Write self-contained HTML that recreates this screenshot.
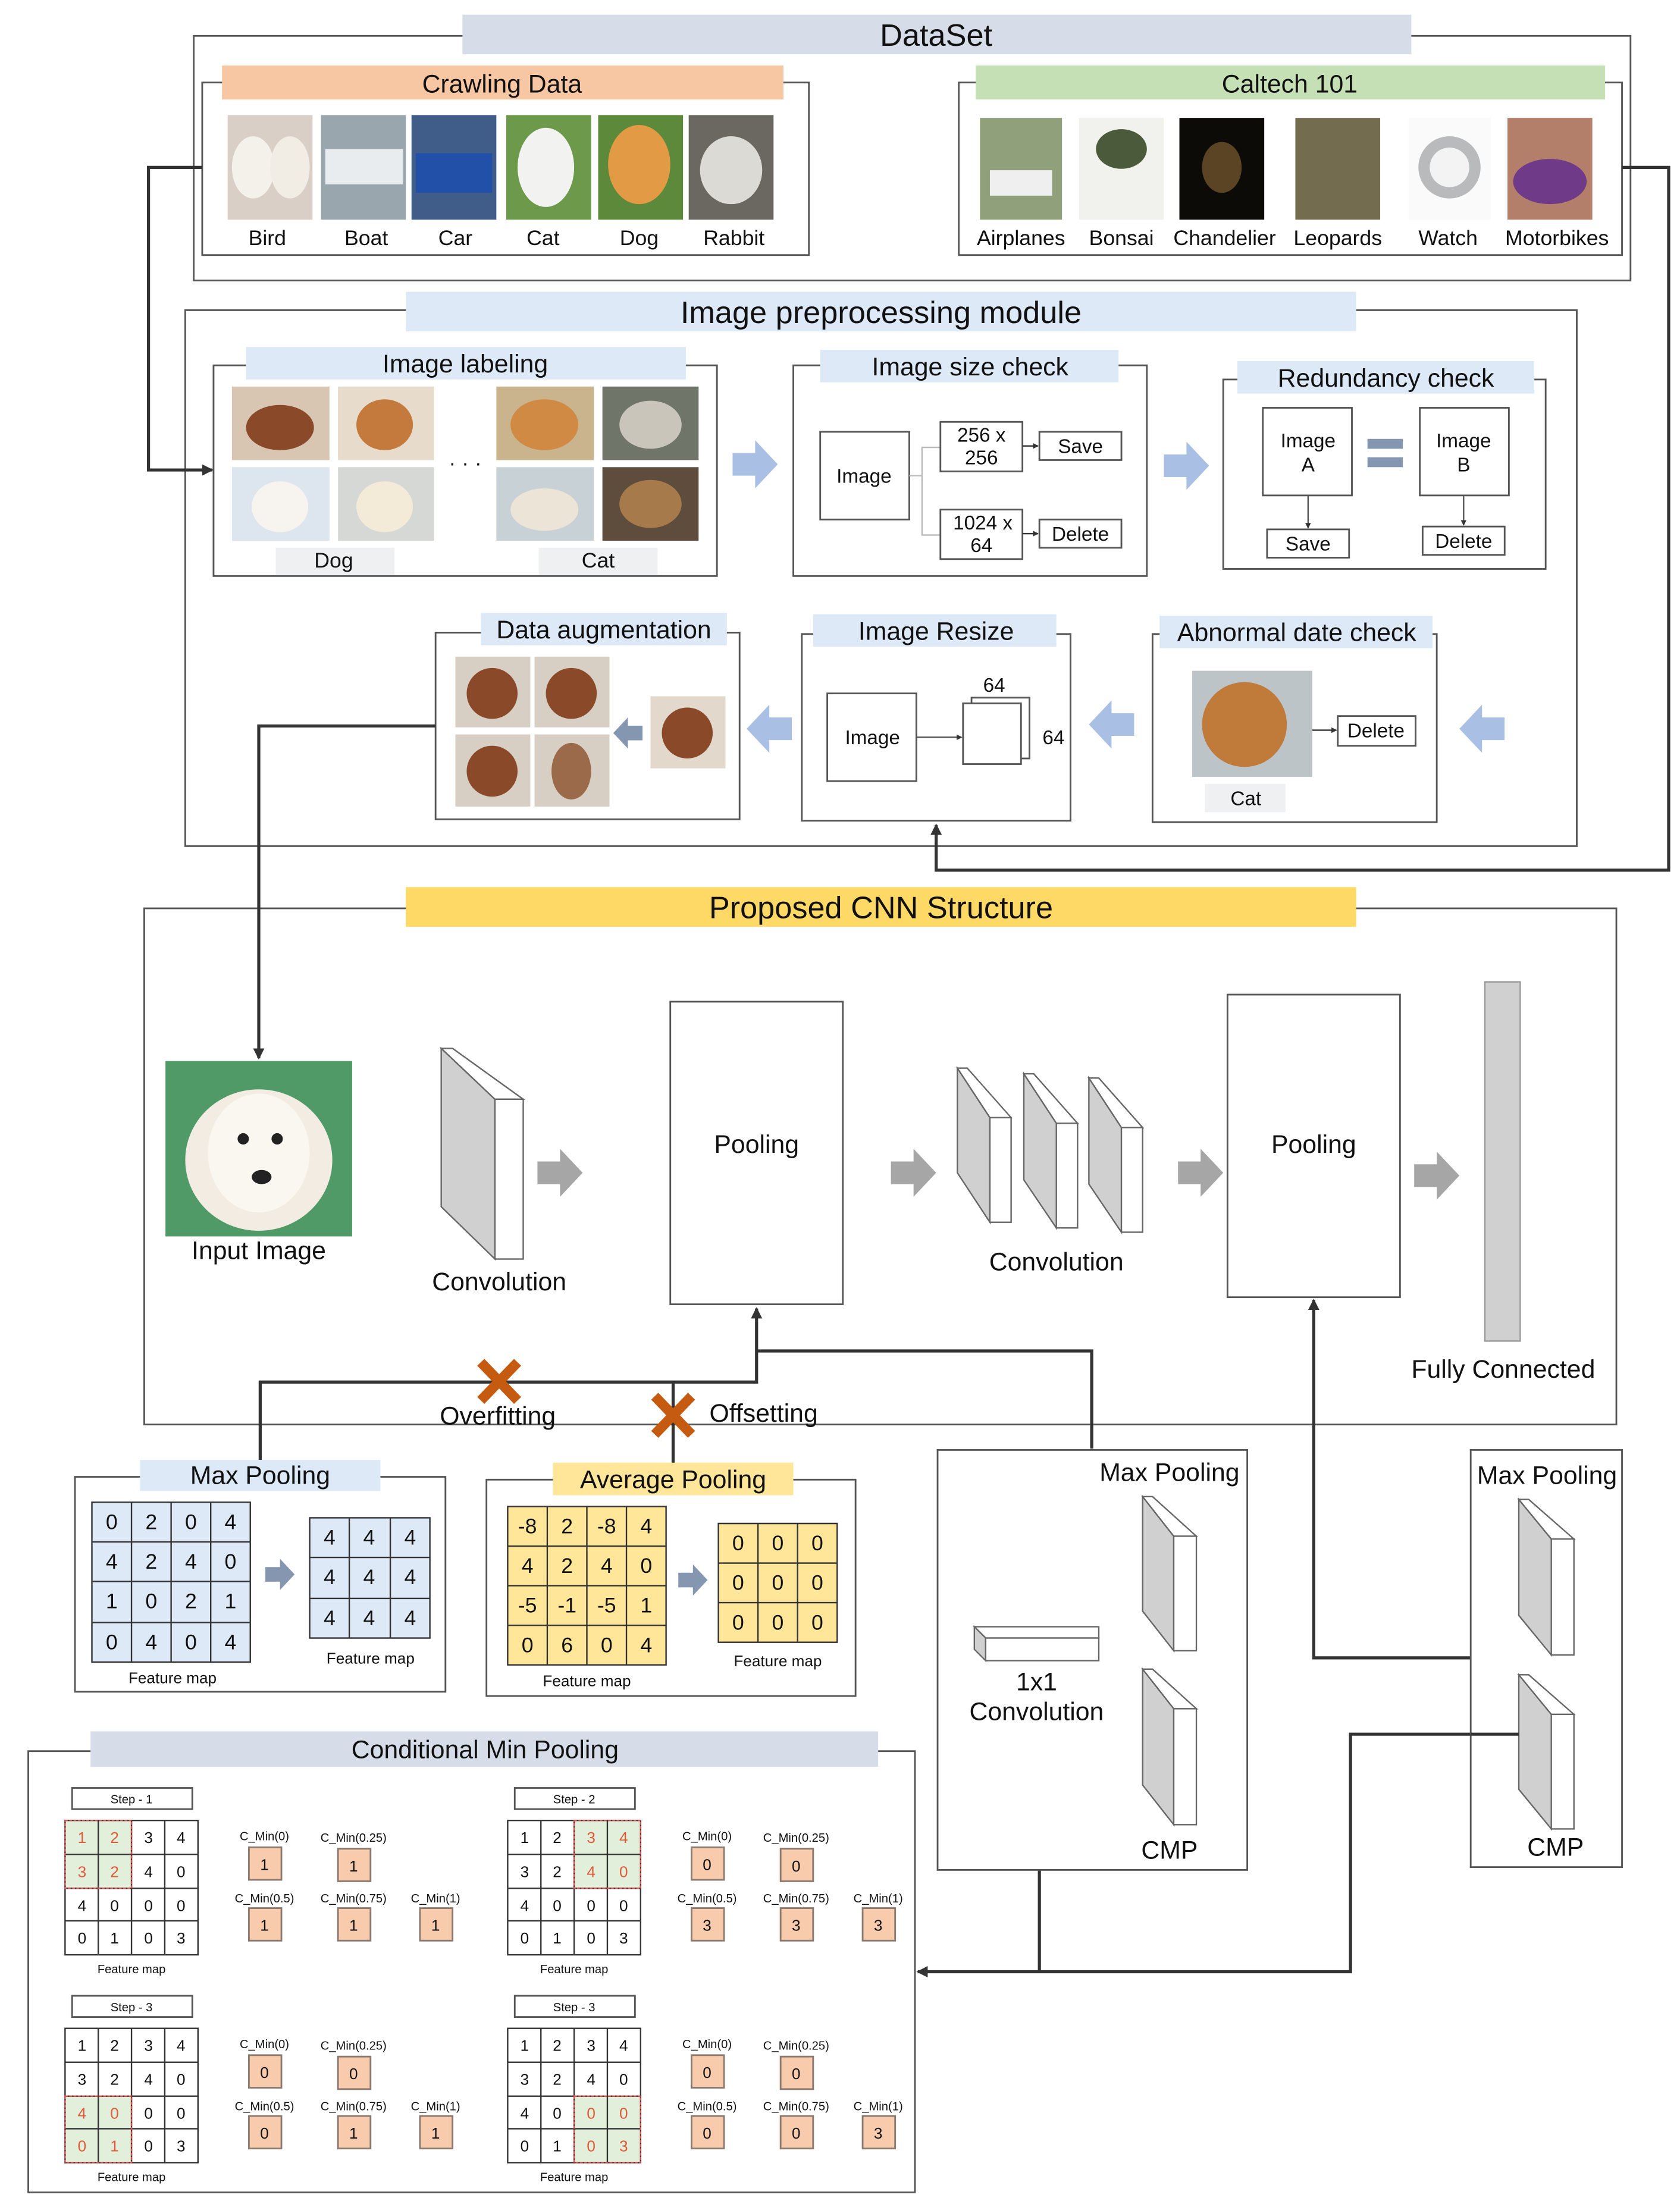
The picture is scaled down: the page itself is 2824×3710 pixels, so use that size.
<!DOCTYPE html>
<html><head><meta charset="utf-8"><style>
html,body{margin:0;padding:0;background:#fff}
svg{display:block}
text{font-family:"Liberation Sans",sans-serif;fill:#111}
.t{font-size:15px;text-anchor:middle}
.h{font-size:18px;text-anchor:middle}
.H{font-size:22px;text-anchor:middle}
.s{font-size:11px;text-anchor:middle}
.xs{font-size:8.5px;text-anchor:middle}
.bx{fill:#fff;stroke:#555;stroke-width:1.2}
.ln{stroke:#333;stroke-width:2.2;fill:none}
.g{fill:none;stroke:#333;stroke-width:1}
.or{fill:#f8cbad;stroke:#8a7a70;stroke-width:1.2}
</style></head><body>
<svg width="2824" height="3710" viewBox="0 0 1188 1560" xmlns="http://www.w3.org/2000/svg">
<defs>
<symbol id="ar" viewBox="0 0 32 34"><polygon points="0,9 16,9 16,0 32,17 16,34 16,25 0,25"/></symbol>
<marker id="mk" markerWidth="8" markerHeight="8" refX="7" refY="4" orient="auto" markerUnits="userSpaceOnUse"><path d="M0,0 L8,4 L0,8 Z" fill="#333"/></marker>
<marker id="mk2" markerWidth="4" markerHeight="4" refX="3.5" refY="2" orient="auto" markerUnits="userSpaceOnUse"><path d="M0,0 L4,2 L0,4 Z" fill="#333"/></marker>
</defs>

<!-- DATASET -->
<rect x="137" y="25" width="1016" height="173" class="bx"/>
<rect x="327" y="10" width="671" height="28" fill="#d6dde8"/>
<text x="662" y="32" class="H">DataSet</text>
<rect x="143" y="58" width="429" height="122" class="bx"/>
<rect x="157" y="46" width="397" height="24" fill="#f7c6a3"/>
<text x="355" y="65" class="h">Crawling Data</text>
<rect x="161" y="81" width="60" height="74" fill="#d9cfc6"/><ellipse cx="179" cy="118" rx="15" ry="22" fill="#f4f0ea"/><ellipse cx="205" cy="118" rx="14" ry="22" fill="#f1ece4"/>
<rect x="227" y="81" width="60" height="74" fill="#9aa6ae"/><rect x="230" y="105" width="55" height="25" fill="#e8ecee"/>
<rect x="291" y="81" width="60" height="74" fill="#3f5d88"/><rect x="294" y="108" width="54" height="28" fill="#2250a8"/>
<rect x="358" y="81" width="60" height="74" fill="#6d9a4a"/><ellipse cx="386" cy="118" rx="20" ry="28" fill="#f2f2f0"/>
<rect x="423" y="81" width="60" height="74" fill="#5d8a3a"/><ellipse cx="452" cy="116" rx="22" ry="28" fill="#e39a45"/>
<rect x="487" y="81" width="60" height="74" fill="#6a6860"/><ellipse cx="517" cy="120" rx="22" ry="24" fill="#dcdad4"/>
<text x="189" y="173" class="t">Bird</text><text x="259" y="173" class="t">Boat</text><text x="322" y="173" class="t">Car</text><text x="384" y="173" class="t">Cat</text><text x="452" y="173" class="t">Dog</text><text x="519" y="173" class="t">Rabbit</text>
<rect x="678" y="58" width="469" height="122" class="bx"/>
<rect x="690" y="46" width="445" height="24" fill="#c5e0b4"/>
<text x="912" y="65" class="h">Caltech 101</text>
<rect x="693" y="83" width="58" height="72" fill="#8fa07a"/><rect x="700" y="120" width="44" height="18" fill="#efefef"/>
<rect x="763" y="83" width="60" height="72" fill="#f1f1ee"/><ellipse cx="793" cy="105" rx="18" ry="14" fill="#4a5a3a"/>
<rect x="834" y="83" width="60" height="72" fill="#0d0b08"/><ellipse cx="864" cy="118" rx="14" ry="18" fill="#5a4424"/>
<rect x="916" y="83" width="60" height="72" fill="#746c4e"/>
<rect x="996" y="83" width="58" height="72" fill="#fafafa"/><circle cx="1025" cy="118" r="22" fill="#b8babc"/><circle cx="1025" cy="118" r="14" fill="#f3f3f3"/>
<rect x="1066" y="83" width="60" height="72" fill="#b37f6a"/><ellipse cx="1096" cy="128" rx="26" ry="16" fill="#6f3a88"/>
<text x="722" y="173" class="t">Airplanes</text><text x="793" y="173" class="t">Bonsai</text><text x="866" y="173" class="t">Chandelier</text><text x="946" y="173" class="t">Leopards</text><text x="1024" y="173" class="t">Watch</text><text x="1101" y="173" class="t">Motorbikes</text>

<!-- PREPROCESSING -->
<rect x="131" y="219" width="984" height="379" class="bx" stroke="#999"/>
<rect x="287" y="206" width="672" height="28" fill="#dde9f6"/>
<text x="623" y="228" class="H">Image preprocessing module</text>
<rect x="151" y="258" width="356" height="149" class="bx"/>
<rect x="174" y="245" width="311" height="23" fill="#dde9f6"/>
<text x="329" y="263" class="h">Image labeling</text>
<rect x="164" y="273" width="69" height="52" fill="#d9c6b2"/><ellipse cx="198" cy="302" rx="24" ry="16" fill="#8a4a2a"/>
<rect x="239" y="273" width="68" height="52" fill="#e7dccb"/><ellipse cx="272" cy="300" rx="20" ry="18" fill="#c47a3c"/>
<rect x="351" y="273" width="69" height="52" fill="#c9b48d"/><ellipse cx="385" cy="300" rx="24" ry="18" fill="#d08a44"/>
<rect x="426" y="273" width="68" height="52" fill="#70756a"/><ellipse cx="460" cy="300" rx="22" ry="17" fill="#c9c5bb"/>
<rect x="164" y="330" width="69" height="52" fill="#dde6ee"/><ellipse cx="198" cy="358" rx="20" ry="18" fill="#f7f4ef"/>
<rect x="239" y="330" width="68" height="52" fill="#d6d8d6"/><ellipse cx="272" cy="358" rx="20" ry="18" fill="#f3ead8"/>
<rect x="351" y="330" width="69" height="52" fill="#c7d1d6"/><ellipse cx="385" cy="360" rx="24" ry="15" fill="#ece4d6"/>
<rect x="426" y="330" width="68" height="52" fill="#5e4c3c"/><ellipse cx="460" cy="356" rx="22" ry="17" fill="#a77a4c"/>
<text x="329" y="332" class="t">· · ·</text>
<rect x="195" y="387" width="84" height="19" fill="#eef0f2"/><text x="236" y="401" class="t">Dog</text>
<rect x="381" y="387" width="84" height="19" fill="#eef0f2"/><text x="423" y="401" class="t">Cat</text>
<use href="#ar" x="518" y="311" width="32" height="34" fill="#a9c0e4"/>
<rect x="561" y="258" width="250" height="149" class="bx"/>
<rect x="580" y="247" width="211" height="23" fill="#dde9f6"/>
<text x="686" y="265" class="h">Image size check</text>
<rect x="580" y="305" width="63" height="62" class="bx"/><text x="611" y="341" class="t" style="font-size:14px">Image</text>
<path d="M643,336 H652 M665,316 H652 V378 H665" stroke="#bbb" fill="none"/>
<rect x="665" y="298" width="58" height="35" class="bx"/><text x="694" y="312" class="t" style="font-size:14px">256 x</text><text x="694" y="328" class="t" style="font-size:14px">256</text>
<line x1="723" y1="315" x2="734" y2="315" stroke="#333" marker-end="url(#mk2)"/>
<rect x="735" y="305" width="58" height="20" class="bx"/><text x="764" y="320" class="t" style="font-size:14px">Save</text>
<rect x="665" y="360" width="58" height="35" class="bx"/><text x="695" y="374" class="t" style="font-size:14px">1024 x</text><text x="694" y="390" class="t" style="font-size:14px">64</text>
<line x1="723" y1="377" x2="734" y2="377" stroke="#333" marker-end="url(#mk2)"/>
<rect x="735" y="367" width="58" height="20" class="bx"/><text x="764" y="382" class="t" style="font-size:14px">Delete</text>
<use href="#ar" x="823" y="312" width="32" height="34" fill="#a9c0e4"/>
<rect x="865" y="268" width="228" height="134" class="bx"/>
<rect x="875" y="255" width="210" height="23" fill="#dde9f6"/>
<text x="980" y="273" class="h">Redundancy check</text>
<rect x="893" y="288" width="63" height="62" class="bx"/><text x="925" y="316" class="t" style="font-size:14px">Image</text><text x="925" y="333" class="t" style="font-size:14px">A</text>
<rect x="1004" y="288" width="63" height="62" class="bx"/><text x="1035" y="316" class="t" style="font-size:14px">Image</text><text x="1035" y="333" class="t" style="font-size:14px">B</text>
<rect x="967" y="310" width="25" height="7" fill="#8597b0"/><rect x="967" y="323" width="25" height="7" fill="#8597b0"/>
<line x1="925" y1="350" x2="925" y2="373" stroke="#555" marker-end="url(#mk2)"/>
<line x1="1035" y1="350" x2="1035" y2="371" stroke="#555" marker-end="url(#mk2)"/>
<rect x="896" y="374" width="58" height="20" class="bx"/><text x="925" y="389" class="t" style="font-size:14px">Save</text>
<rect x="1006" y="372" width="58" height="20" class="bx"/><text x="1035" y="387" class="t" style="font-size:14px">Delete</text>
<rect x="815" y="448" width="201" height="133" class="bx"/>
<rect x="820" y="435" width="193" height="23" fill="#dde9f6"/>
<text x="917" y="453" class="h">Abnormal date check</text>
<rect x="843" y="474" width="85" height="75" fill="#bcc4c8"/><ellipse cx="880" cy="512" rx="30" ry="30" fill="#c07a3a"/>
<line x1="928" y1="516" x2="945" y2="516" stroke="#333" marker-end="url(#mk2)"/>
<rect x="946" y="506" width="55" height="21" class="bx"/><text x="973" y="521" class="t" style="font-size:14px">Delete</text>
<rect x="852" y="554" width="57" height="20" fill="#eef0f2"/><text x="881" y="569" class="t" style="font-size:14px">Cat</text>
<use href="#ar" x="1032" y="498" width="32" height="34" fill="#a9c0e4" transform="rotate(180 1048 515)"/>
<rect x="567" y="448" width="190" height="132" class="bx"/>
<rect x="575" y="434" width="172" height="23" fill="#dde9f6"/>
<text x="662" y="452" class="h">Image Resize</text>
<rect x="585" y="490" width="63" height="62" class="bx"/><text x="617" y="526" class="t" style="font-size:14px">Image</text>
<line x1="648" y1="521" x2="680" y2="521" stroke="#555" marker-end="url(#mk2)"/>
<rect x="687" y="493" width="41" height="43" class="bx"/>
<rect x="681" y="497" width="41" height="43" class="bx"/>
<text x="703" y="489" class="t" style="font-size:14px">64</text><text x="745" y="526" class="t" style="font-size:14px">64</text>
<use href="#ar" x="770" y="495" width="32" height="34" fill="#a9c0e4" transform="rotate(180 786 512)"/>
<rect x="308" y="447" width="215" height="132" class="bx"/>
<rect x="340" y="433" width="174" height="23" fill="#dde9f6"/>
<text x="427" y="451" class="h">Data augmentation</text>
<rect x="322" y="464" width="53" height="50" fill="#d8cfc4"/><ellipse cx="348" cy="490" rx="18" ry="18" fill="#8a4a2a"/>
<rect x="378" y="464" width="53" height="50" fill="#d8cfc4"/><ellipse cx="404" cy="490" rx="18" ry="18" fill="#8a4a2a"/>
<rect x="322" y="519" width="53" height="51" fill="#d8cfc4"/><ellipse cx="348" cy="545" rx="18" ry="18" fill="#8a4a2a"/>
<rect x="378" y="519" width="53" height="51" fill="#d8cfc4"/><ellipse cx="404" cy="545" rx="14" ry="20" fill="#9a6a4a"/>
<rect x="460" y="492" width="53" height="51" fill="#e2d8cc"/><ellipse cx="486" cy="518" rx="18" ry="18" fill="#8a4a2a"/>
<use href="#ar" x="433" y="507" width="22" height="22" fill="#8597b0" transform="rotate(180 444 518)"/>
<use href="#ar" x="528" y="498" width="32" height="34" fill="#a9c0e4" transform="rotate(180 544 515)"/>

<!-- CNN -->
<rect x="102" y="642" width="1041" height="365" class="bx" stroke="#aaa"/>
<rect x="287" y="627" width="672" height="28" fill="#ffd966"/>
<text x="623" y="649" class="H">Proposed CNN Structure</text>
<rect x="117" y="750" width="132" height="124" fill="#4f9a66"/><ellipse cx="183" cy="820" rx="52" ry="50" fill="#f2ece2"/><ellipse cx="183" cy="815" rx="36" ry="42" fill="#faf6f0"/><circle cx="172" cy="805" r="4" fill="#222"/><circle cx="196" cy="805" r="4" fill="#222"/><ellipse cx="185" cy="832" rx="7" ry="5" fill="#222"/>
<text x="183" y="890" class="h">Input Image</text>
<polygon points="312,741 350,777 350,890 312,853" fill="#d0d0d0" stroke="#666"/>
<polygon points="312,741 320,741 370,777 350,777" fill="#fff" stroke="#666"/>
<rect x="350" y="777" width="20" height="113" fill="#fff" stroke="#666"/>
<text x="353" y="912" class="h">Convolution</text>
<use href="#ar" x="380" y="811" width="32" height="36" fill="#a6a6a6"/>
<rect x="474" y="708" width="122" height="214" class="bx" stroke="#999"/>
<text x="535" y="815" class="h">Pooling</text>
<use href="#ar" x="630" y="811" width="32" height="36" fill="#a6a6a6"/>
<polygon points="677,755 700,790 700,864 677,829" fill="#d0d0d0" stroke="#666"/><polygon points="677,755 684,755 715,790 700,790" fill="#fff" stroke="#666"/><rect x="700" y="790" width="15" height="74" fill="#fff" stroke="#666"/>
<polygon points="724,759 747,794 747,868 724,834" fill="#d0d0d0" stroke="#666"/><polygon points="724,759 731,759 762,794 747,794" fill="#fff" stroke="#666"/><rect x="747" y="794" width="15" height="74" fill="#fff" stroke="#666"/>
<polygon points="770,762 793,797 793,871 770,837" fill="#d0d0d0" stroke="#666"/><polygon points="770,762 777,762 808,797 793,797" fill="#fff" stroke="#666"/><rect x="793" y="797" width="15" height="74" fill="#fff" stroke="#666"/>
<text x="747" y="898" class="h">Convolution</text>
<use href="#ar" x="833" y="811" width="32" height="36" fill="#a6a6a6"/>
<rect x="868" y="703" width="122" height="214" class="bx" stroke="#999"/>
<text x="929" y="815" class="h">Pooling</text>
<use href="#ar" x="1000" y="813" width="32" height="36" fill="#a6a6a6"/>
<rect x="1050" y="694" width="25" height="254" fill="#d0d0d0" stroke="#999"/>
<text x="1063" y="974" class="h">Fully Connected</text>

<!-- connectors top (drawn after boxes) -->
<polyline points="143,118 105,118 105,332 150,332" class="ln" marker-end="url(#mk)"/>
<polyline points="1147,118 1180,118 1180,615 662,615 662,583" class="ln" marker-end="url(#mk)"/>
<polyline points="308,513 183,513 183,748" class="ln" marker-end="url(#mk)"/>

<!-- connectors middle -->
<polyline points="184,1032 184,977 535,977 535,925" class="ln" marker-end="url(#mk)"/>
<polyline points="476,1035 476,977" class="ln"/>
<polyline points="535,955 772,955 772,1024" class="ln"/>
<polyline points="1040,1172 929,1172 929,919" class="ln" marker-end="url(#mk)"/>
<polyline points="1074,1226 955,1226 955,1394 649,1394" class="ln" marker-end="url(#mk)"/>
<polyline points="822,1236 735,1236 735,1394" class="ln"/>
<g stroke="#c55a11" stroke-width="7"><line x1="340" y1="963" x2="366" y2="990"/><line x1="366" y1="963" x2="340" y2="990"/><line x1="463" y1="987" x2="489" y2="1014"/><line x1="489" y1="987" x2="463" y2="1014"/></g>
<text x="352" y="1007" class="h">Overfitting</text>
<text x="540" y="1005" class="h">Offsetting</text>

<!-- Max Pooling -->
<rect x="53" y="1044" width="262" height="152" class="bx" stroke="#999"/>
<rect x="99" y="1032" width="170" height="22" fill="#dde9f6"/>
<text x="184" y="1049" class="h">Max Pooling</text>
<rect x="65" y="1062" width="112" height="113" fill="#dde9f7"/>
<path d="M65,1062 h112 v113 h-112 Z M93,1062 v113 M121,1062 v113 M149,1062 v113 M65,1090 h112 M65,1118 h112 M65,1147 h112" class="g"/>
<text x="79" y="1081" class="t">0</text><text x="107" y="1081" class="t">2</text><text x="135" y="1081" class="t">0</text><text x="163" y="1081" class="t">4</text>
<text x="79" y="1109" class="t">4</text><text x="107" y="1109" class="t">2</text><text x="135" y="1109" class="t">4</text><text x="163" y="1109" class="t">0</text>
<text x="79" y="1137" class="t">1</text><text x="107" y="1137" class="t">0</text><text x="135" y="1137" class="t">2</text><text x="163" y="1137" class="t">1</text>
<text x="79" y="1166" class="t">0</text><text x="107" y="1166" class="t">4</text><text x="135" y="1166" class="t">0</text><text x="163" y="1166" class="t">4</text>
<text x="122" y="1190" class="s">Feature map</text>
<use href="#ar" x="186" y="1102" width="24" height="22" fill="#8597b0"/>
<rect x="219" y="1073" width="85" height="85" fill="#dde9f7"/>
<path d="M219,1073 h85 v85 h-85 Z M247,1073 v85 M276,1073 v85 M219,1101 h85 M219,1130 h85" class="g"/>
<text x="233" y="1092" class="t">4</text><text x="261" y="1092" class="t">4</text><text x="290" y="1092" class="t">4</text>
<text x="233" y="1120" class="t">4</text><text x="261" y="1120" class="t">4</text><text x="290" y="1120" class="t">4</text>
<text x="233" y="1149" class="t">4</text><text x="261" y="1149" class="t">4</text><text x="290" y="1149" class="t">4</text>
<text x="262" y="1176" class="s">Feature map</text>

<!-- Average Pooling -->
<rect x="344" y="1046" width="261" height="153" class="bx" stroke="#999"/>
<rect x="391" y="1034" width="170" height="23" fill="#ffe699"/>
<text x="476" y="1052" class="h">Average Pooling</text>
<rect x="359" y="1065" width="112" height="112" fill="#ffe699"/>
<path d="M359,1065 h112 v112 h-112 Z M387,1065 v112 M415,1065 v112 M443,1065 v112 M359,1093 h112 M359,1121 h112 M359,1149 h112" class="g"/>
<text x="373" y="1084" class="t">-8</text><text x="401" y="1084" class="t">2</text><text x="429" y="1084" class="t">-8</text><text x="457" y="1084" class="t">4</text>
<text x="373" y="1112" class="t">4</text><text x="401" y="1112" class="t">2</text><text x="429" y="1112" class="t">4</text><text x="457" y="1112" class="t">0</text>
<text x="373" y="1140" class="t">-5</text><text x="401" y="1140" class="t">-1</text><text x="429" y="1140" class="t">-5</text><text x="457" y="1140" class="t">1</text>
<text x="373" y="1168" class="t">0</text><text x="401" y="1168" class="t">6</text><text x="429" y="1168" class="t">0</text><text x="457" y="1168" class="t">4</text>
<text x="415" y="1192" class="s">Feature map</text>
<use href="#ar" x="478" y="1106" width="24" height="22" fill="#8597b0"/>
<rect x="508" y="1077" width="84" height="84" fill="#ffe699"/>
<path d="M508,1077 h84 v84 h-84 Z M536,1077 v84 M564,1077 v84 M508,1105 h84 M508,1133 h84" class="g"/>
<text x="522" y="1096" class="t">0</text><text x="550" y="1096" class="t">0</text><text x="578" y="1096" class="t">0</text>
<text x="522" y="1124" class="t">0</text><text x="550" y="1124" class="t">0</text><text x="578" y="1124" class="t">0</text>
<text x="522" y="1152" class="t">0</text><text x="550" y="1152" class="t">0</text><text x="578" y="1152" class="t">0</text>
<text x="550" y="1178" class="s">Feature map</text>

<!-- middle Max Pooling / CMP -->
<rect x="663" y="1025" width="219" height="297" class="bx" stroke="#999"/>
<text x="827" y="1047" class="h">Max Pooling</text>
<polygon points="808,1058 830,1086 830,1167 808,1139" fill="#d0d0d0" stroke="#666"/><polygon points="808,1058 815,1058 846,1086 830,1086" fill="#fff" stroke="#666"/><rect x="830" y="1086" width="16" height="81" fill="#fff" stroke="#666"/>
<polygon points="689,1150 777,1150 777,1158 697,1158" fill="#fff" stroke="#666"/><polygon points="689,1150 697,1158 697,1174 689,1166" fill="#d0d0d0" stroke="#666"/><rect x="697" y="1158" width="80" height="16" fill="#fff" stroke="#666"/>
<text x="733" y="1195" class="h">1x1</text><text x="733" y="1216" class="h">Convolution</text>
<polygon points="808,1180 830,1208 830,1290 808,1262" fill="#d0d0d0" stroke="#666"/><polygon points="808,1180 815,1180 846,1208 830,1208" fill="#fff" stroke="#666"/><rect x="830" y="1208" width="16" height="82" fill="#fff" stroke="#666"/>
<text x="827" y="1314" class="h">CMP</text>
<rect x="1040" y="1025" width="107" height="295" class="bx" stroke="#999"/>
<text x="1094" y="1049" class="h">Max Pooling</text>
<polygon points="1074,1060 1097,1088 1097,1170 1074,1142" fill="#d0d0d0" stroke="#666"/><polygon points="1074,1060 1081,1060 1113,1088 1097,1088" fill="#fff" stroke="#666"/><rect x="1097" y="1088" width="16" height="82" fill="#fff" stroke="#666"/>
<polygon points="1074,1184 1097,1212 1097,1293 1074,1265" fill="#d0d0d0" stroke="#666"/><polygon points="1074,1184 1081,1184 1113,1212 1097,1212" fill="#fff" stroke="#666"/><rect x="1097" y="1212" width="16" height="81" fill="#fff" stroke="#666"/>
<text x="1100" y="1312" class="h">CMP</text>
<line x1="1040" y1="1172" x2="1040" y2="1172" class="ln"/>
<polyline points="1074,1226 1040,1226" class="ln"/>

<!-- Conditional Min Pooling -->
<rect x="20" y="1238" width="627" height="312" class="bx" stroke="#666"/>
<rect x="64" y="1224" width="557" height="25" fill="#d6dde8"/>
<text x="343" y="1243" class="h">Conditional Min Pooling</text>

<g>
<rect x="51" y="1264" width="85" height="15" class="bx"/><text x="93" y="1275" class="xs">Step - 1</text>
<rect x="46" y="1287" width="47" height="48" fill="#e2efda"/>
<path d="M46,1287 h94 v95 h-94 Z M69.5,1287 v95 M93,1287 v95 M116.5,1287 v95 M46,1311 h94 M46,1335 h94 M46,1358 h94" class="g"/>
<rect x="46" y="1287" width="47" height="48" fill="none" stroke="#e05050" stroke-dasharray="2,1"/>
<text x="58" y="1303" class="s" style="fill:#e05a3a">1</text><text x="81" y="1303" class="s" style="fill:#e05a3a">2</text><text x="105" y="1303" class="s">3</text><text x="128" y="1303" class="s">4</text>
<text x="58" y="1327" class="s" style="fill:#e05a3a">3</text><text x="81" y="1327" class="s" style="fill:#e05a3a">2</text><text x="105" y="1327" class="s">4</text><text x="128" y="1327" class="s">0</text>
<text x="58" y="1351" class="s">4</text><text x="81" y="1351" class="s">0</text><text x="105" y="1351" class="s">0</text><text x="128" y="1351" class="s">0</text>
<text x="58" y="1374" class="s">0</text><text x="81" y="1374" class="s">1</text><text x="105" y="1374" class="s">0</text><text x="128" y="1374" class="s">3</text>
<text x="93" y="1395" class="xs">Feature map</text>
<text x="187" y="1301" class="xs">C_Min(0)</text><rect x="176" y="1306" width="23" height="23" class="or"/><text x="187" y="1322" class="s">1</text>
<text x="250" y="1302" class="xs">C_Min(0.25)</text><rect x="239" y="1307" width="23" height="23" class="or"/><text x="250" y="1323" class="s">1</text>
<text x="187" y="1345" class="xs">C_Min(0.5)</text><rect x="176" y="1349" width="23" height="23" class="or"/><text x="187" y="1365" class="s">1</text>
<text x="250" y="1345" class="xs">C_Min(0.75)</text><rect x="239" y="1349" width="23" height="23" class="or"/><text x="250" y="1365" class="s">1</text>
<text x="308" y="1345" class="xs">C_Min(1)</text><rect x="297" y="1349" width="23" height="23" class="or"/><text x="308" y="1365" class="s">1</text>
</g>
<g transform="translate(313,0)">
<rect x="51" y="1264" width="85" height="15" class="bx"/><text x="93" y="1275" class="xs">Step - 2</text>
<rect x="93" y="1287" width="47" height="48" fill="#e2efda"/>
<path d="M46,1287 h94 v95 h-94 Z M69.5,1287 v95 M93,1287 v95 M116.5,1287 v95 M46,1311 h94 M46,1335 h94 M46,1358 h94" class="g"/>
<rect x="93" y="1287" width="47" height="48" fill="none" stroke="#e05050" stroke-dasharray="2,1"/>
<text x="58" y="1303" class="s">1</text><text x="81" y="1303" class="s">2</text><text x="105" y="1303" class="s" style="fill:#e05a3a">3</text><text x="128" y="1303" class="s" style="fill:#e05a3a">4</text>
<text x="58" y="1327" class="s">3</text><text x="81" y="1327" class="s">2</text><text x="105" y="1327" class="s" style="fill:#e05a3a">4</text><text x="128" y="1327" class="s" style="fill:#e05a3a">0</text>
<text x="58" y="1351" class="s">4</text><text x="81" y="1351" class="s">0</text><text x="105" y="1351" class="s">0</text><text x="128" y="1351" class="s">0</text>
<text x="58" y="1374" class="s">0</text><text x="81" y="1374" class="s">1</text><text x="105" y="1374" class="s">0</text><text x="128" y="1374" class="s">3</text>
<text x="93" y="1395" class="xs">Feature map</text>
<text x="187" y="1301" class="xs">C_Min(0)</text><rect x="176" y="1306" width="23" height="23" class="or"/><text x="187" y="1322" class="s">0</text>
<text x="250" y="1302" class="xs">C_Min(0.25)</text><rect x="239" y="1307" width="23" height="23" class="or"/><text x="250" y="1323" class="s">0</text>
<text x="187" y="1345" class="xs">C_Min(0.5)</text><rect x="176" y="1349" width="23" height="23" class="or"/><text x="187" y="1365" class="s">3</text>
<text x="250" y="1345" class="xs">C_Min(0.75)</text><rect x="239" y="1349" width="23" height="23" class="or"/><text x="250" y="1365" class="s">3</text>
<text x="308" y="1345" class="xs">C_Min(1)</text><rect x="297" y="1349" width="23" height="23" class="or"/><text x="308" y="1365" class="s">3</text>
</g>
<g transform="translate(0,147)">
<rect x="51" y="1264" width="85" height="15" class="bx"/><text x="93" y="1275" class="xs">Step - 3</text>
<rect x="46" y="1335" width="47" height="47" fill="#e2efda"/>
<path d="M46,1287 h94 v95 h-94 Z M69.5,1287 v95 M93,1287 v95 M116.5,1287 v95 M46,1311 h94 M46,1335 h94 M46,1358 h94" class="g"/>
<rect x="46" y="1335" width="47" height="47" fill="none" stroke="#e05050" stroke-dasharray="2,1"/>
<text x="58" y="1303" class="s">1</text><text x="81" y="1303" class="s">2</text><text x="105" y="1303" class="s">3</text><text x="128" y="1303" class="s">4</text>
<text x="58" y="1327" class="s">3</text><text x="81" y="1327" class="s">2</text><text x="105" y="1327" class="s">4</text><text x="128" y="1327" class="s">0</text>
<text x="58" y="1351" class="s" style="fill:#e05a3a">4</text><text x="81" y="1351" class="s" style="fill:#e05a3a">0</text><text x="105" y="1351" class="s">0</text><text x="128" y="1351" class="s">0</text>
<text x="58" y="1374" class="s" style="fill:#e05a3a">0</text><text x="81" y="1374" class="s" style="fill:#e05a3a">1</text><text x="105" y="1374" class="s">0</text><text x="128" y="1374" class="s">3</text>
<text x="93" y="1395" class="xs">Feature map</text>
<text x="187" y="1301" class="xs">C_Min(0)</text><rect x="176" y="1306" width="23" height="23" class="or"/><text x="187" y="1322" class="s">0</text>
<text x="250" y="1302" class="xs">C_Min(0.25)</text><rect x="239" y="1307" width="23" height="23" class="or"/><text x="250" y="1323" class="s">0</text>
<text x="187" y="1345" class="xs">C_Min(0.5)</text><rect x="176" y="1349" width="23" height="23" class="or"/><text x="187" y="1365" class="s">0</text>
<text x="250" y="1345" class="xs">C_Min(0.75)</text><rect x="239" y="1349" width="23" height="23" class="or"/><text x="250" y="1365" class="s">1</text>
<text x="308" y="1345" class="xs">C_Min(1)</text><rect x="297" y="1349" width="23" height="23" class="or"/><text x="308" y="1365" class="s">1</text>
</g>
<g transform="translate(313,147)">
<rect x="51" y="1264" width="85" height="15" class="bx"/><text x="93" y="1275" class="xs">Step - 3</text>
<rect x="93" y="1335" width="47" height="47" fill="#e2efda"/>
<path d="M46,1287 h94 v95 h-94 Z M69.5,1287 v95 M93,1287 v95 M116.5,1287 v95 M46,1311 h94 M46,1335 h94 M46,1358 h94" class="g"/>
<rect x="93" y="1335" width="47" height="47" fill="none" stroke="#e05050" stroke-dasharray="2,1"/>
<text x="58" y="1303" class="s">1</text><text x="81" y="1303" class="s">2</text><text x="105" y="1303" class="s">3</text><text x="128" y="1303" class="s">4</text>
<text x="58" y="1327" class="s">3</text><text x="81" y="1327" class="s">2</text><text x="105" y="1327" class="s">4</text><text x="128" y="1327" class="s">0</text>
<text x="58" y="1351" class="s">4</text><text x="81" y="1351" class="s">0</text><text x="105" y="1351" class="s" style="fill:#e05a3a">0</text><text x="128" y="1351" class="s" style="fill:#e05a3a">0</text>
<text x="58" y="1374" class="s">0</text><text x="81" y="1374" class="s">1</text><text x="105" y="1374" class="s" style="fill:#e05a3a">0</text><text x="128" y="1374" class="s" style="fill:#e05a3a">3</text>
<text x="93" y="1395" class="xs">Feature map</text>
<text x="187" y="1301" class="xs">C_Min(0)</text><rect x="176" y="1306" width="23" height="23" class="or"/><text x="187" y="1322" class="s">0</text>
<text x="250" y="1302" class="xs">C_Min(0.25)</text><rect x="239" y="1307" width="23" height="23" class="or"/><text x="250" y="1323" class="s">0</text>
<text x="187" y="1345" class="xs">C_Min(0.5)</text><rect x="176" y="1349" width="23" height="23" class="or"/><text x="187" y="1365" class="s">0</text>
<text x="250" y="1345" class="xs">C_Min(0.75)</text><rect x="239" y="1349" width="23" height="23" class="or"/><text x="250" y="1365" class="s">0</text>
<text x="308" y="1345" class="xs">C_Min(1)</text><rect x="297" y="1349" width="23" height="23" class="or"/><text x="308" y="1365" class="s">3</text>
</g>
</svg>
</body></html>
